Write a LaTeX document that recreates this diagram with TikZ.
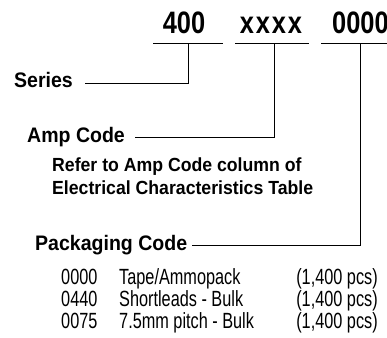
\documentclass[tikz,border=0pt]{standalone}
\usepackage{fontspec}
\setmainfont{Liberation Sans}
\newfontfamily\headfont{Liberation Sans}[FakeStretch=0.82]
\newfontfamily\labelfont{Liberation Sans}[FakeStretch=0.93]
\newfontfamily\rowfont{Liberation Sans}[FakeStretch=0.74]
\begin{document}
\begin{tikzpicture}[x=1pt,y=-1pt,
    partno/.style={font=\headfont\bfseries\fontsize{31}{32}\selectfont,inner sep=0pt,anchor=base},
    field/.style={font=\labelfont\bfseries\fontsize{21}{22}\selectfont,inner sep=0pt,anchor=base west},
    note/.style={font=\labelfont\bfseries\fontsize{19}{20}\selectfont,inner sep=0pt,anchor=base west},
    entry/.style={font=\rowfont\fontsize{22}{23}\selectfont,inner sep=0pt,anchor=base west},
    leader/.style={line width=0.8pt}]
    \useasboundingbox (0,0) rectangle (387,337);
    \clip (0,0) rectangle (387,337);

    % Part number
    \node[partno] (series) at (184,34) {400};
    \node[partno] (amp) at (271,34) {\addfontfeatures{LetterSpace=6}xxxx};
    \node[partno,anchor=base west] (pack) at (332,34) {0000};

    % Underlines
    \coordinate (s1) at (153,43); \coordinate (s2) at (223,43);
    \coordinate (a1) at (235,43); \coordinate (a2) at (309,43);
    \coordinate (p1) at (321,43); \coordinate (p2) at (400,43);
    \draw[leader] (s1) -- (s2);
    \draw[leader] (a1) -- (a2);
    \draw[leader] (p1) -- (p2);

    % Field labels
    \node[field] (serieslbl) at (14,87) {Series};
    \node[field] (amplbl) at (27,142) {Amp Code};
    \node[note] (ref1) at (52,171) {Refer to Amp Code column of};
    \node[note] (ref2) at (52,194) {Electrical Characteristics Table};
    \node[field] (packlbl) at (35,250) {Packaging Code};

    % Leaders
    \coordinate (sl) at (85,83);  \coordinate (sv) at (188,43);
    \coordinate (al) at (135,137); \coordinate (av) at (274,43);
    \coordinate (pl) at (192,245); \coordinate (pv) at (360,43);
    \draw[leader] (sl) -| (sv);
    \draw[leader] (al) -| (av);
    \draw[leader] (pl) -| (pv);

    % Packaging table
    \foreach \code/\desc [count=\i] in {0000/{Tape/Ammopack}, 0440/{Shortleads - Bulk}, 0075/{7.5mm pitch - Bulk}}{
        \node[entry] (code\i) at (61,262+22*\i) {\code};
        \node[entry] (desc\i) at (119,262+22*\i) {\desc};
        \node[entry,anchor=base] (qty\i) at (337,262+22*\i) {(1,400 pcs)};
    }
\end{tikzpicture}
\end{document}
